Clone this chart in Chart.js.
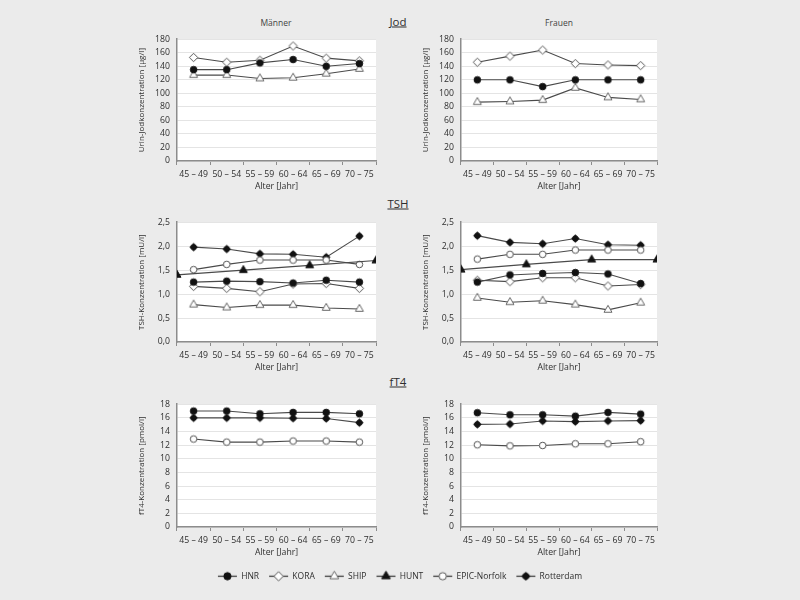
<!DOCTYPE html>
<html><head><meta charset="utf-8">
<script src="https://cdn.jsdelivr.net/npm/chart.js@4.4.0/dist/chart.umd.min.js"></script>
<style>
html,body{margin:0;padding:0;background:#ebebeb;width:800px;height:600px;overflow:hidden;font-family:"Open Sans","Noto Sans",sans-serif;color:#2e2e2e}
.box{position:absolute}
.sec{position:absolute;font-size:11.5px;text-decoration:underline;transform:translate(-50%,-50%);white-space:nowrap}
.sub{position:absolute;font-size:8.5px;transform:translate(-50%,-50%);color:#444;white-space:nowrap}
</style></head><body>
<div class="sec" style="left:398px;top:21px">Jod</div>
<div class="sub" style="left:276px;top:22px">Männer</div>
<div class="sub" style="left:559px;top:22px">Frauen</div>
<div class="sec" style="left:398px;top:203px">TSH</div>
<div class="sec" style="left:398px;top:381px">fT4</div>
<script>
// ---------- data ----------
const ageGroups = ['45 – 49','50 – 54','55 – 59','60 – 64','65 – 69','70 – 75'];
const ageGroupStart = [45,50,55,60,65,70];
const huntAges = [45,55,65,75];

const jodM_HNR  = [135,135,145,150,140,144];
const jodM_KORA = [153,146,149,170,152,148];
const jodM_SHIP = [127,127,122,123,129,136];
const jodF_HNR  = [120,120,110,120,120,120];
const jodF_KORA = [146,155,164,144,142,141];
const jodF_SHIP = [87,88,90,108,94,91];

const tshM_HNR  = [1.25,1.27,1.26,1.23,1.29,1.25];
const tshM_KORA = [1.16,1.12,1.05,1.21,1.22,1.12];
const tshM_SHIP = [0.78,0.72,0.77,0.77,0.71,0.69];
const tshM_HUNT = [1.40,1.50,1.60,1.70];
const tshM_EPIC = [1.51,1.62,1.71,1.71,1.71,1.62];
const tshM_Rott = [1.98,1.94,1.84,1.83,1.77,2.21];

const tshF_HNR  = [1.25,1.40,1.43,1.45,1.42,1.22];
const tshF_KORA = [1.29,1.26,1.34,1.34,1.17,1.20];
const tshF_SHIP = [0.92,0.83,0.86,0.78,0.67,0.82];
const tshF_HUNT = [1.51,1.62,1.72,1.72];
const tshF_EPIC = [1.73,1.83,1.83,1.92,1.92,1.92];
const tshF_Rott = [2.22,2.08,2.05,2.16,2.03,2.02];

const ft4M_HNR  = [17.0,17.0,16.6,16.8,16.8,16.6];
const ft4M_Rott = [16.0,16.0,16.0,15.95,15.9,15.3];
const ft4M_EPIC = [12.9,12.45,12.45,12.6,12.6,12.45];
const ft4F_HNR  = [16.75,16.45,16.45,16.25,16.8,16.55];
const ft4F_Rott = [15.05,15.1,15.55,15.45,15.55,15.6];
const ft4F_EPIC = [12.05,11.9,11.95,12.2,12.2,12.5];

const legendNames = ['HNR','KORA','SHIP','HUNT','EPIC-Norfolk','Rotterdam'];

// ---------- styles ----------
const FONT = "'Open Sans','Noto Sans',sans-serif";
const AXIS = '#8c8c8c';
const TXT = '#2e2e2e';
const LINE = '#4a4a4a';

function drawShape(ctx, shape, x, y, r, bg, bc) {
  ctx.save();
  ctx.fillStyle = bg; ctx.strokeStyle = bc; ctx.lineWidth = 1;
  ctx.beginPath();
  if (shape === 'circle') { ctx.arc(x, y, r, 0, Math.PI*2); }
  else if (shape === 'diamond') { ctx.moveTo(x, y-r); ctx.lineTo(x+r, y); ctx.lineTo(x, y+r); ctx.lineTo(x-r, y); ctx.closePath(); }
  else if (shape === 'triangle') {
    for (let k=0;k<3;k++){ const a = -Math.PI/2 + k*2*Math.PI/3; const px = x + Math.cos(a)*r, py = y + Math.sin(a)*r; k?ctx.lineTo(px,py):ctx.moveTo(px,py);} ctx.closePath();
  }
  ctx.fill(); ctx.stroke();
  if (shape === 'rott') {
    ctx.beginPath(); ctx.moveTo(x, y-r); ctx.lineTo(x+r, y); ctx.lineTo(x, y+r); ctx.lineTo(x-r, y); ctx.closePath(); ctx.fill();
    ctx.beginPath(); ctx.arc(x, y, r*0.72, 0, Math.PI*2); ctx.fill();
  }
  ctx.restore();
}
function glyph(shape, r, bg, bc, withLine, scale) {
  scale = scale || 1;
  const rr = r*scale;
  const w = withLine ? 21 : Math.ceil(2*rr+4), h = withLine ? 13 : Math.ceil(2*rr+4);
  const c = document.createElement('canvas'); c.width = w; c.height = h;
  const ctx = c.getContext('2d');
  if (withLine) { ctx.strokeStyle = '#333'; ctx.lineWidth = 1.2; ctx.beginPath(); ctx.moveTo(1, h/2); ctx.lineTo(w-1, h/2); ctx.stroke(); }
  drawShape(ctx, shape, w/2, h/2, rr, bg, bc);
  return c;
}
const SER = {
  HNR:  {shape:'circle',   r:3.3, bg:'#111', bc:'#111'},
  KORA: {shape:'diamond',  r:4.2, bg:'#fff', bc:'#555'},
  SHIP: {shape:'triangle', r:4.6, bg:'#fff', bc:'#666'},
  HUNT: {shape:'triangle', r:4.6, bg:'#111', bc:'#111'},
  EPIC: {shape:'circle',   r:3.3, bg:'#fff', bc:'#555'},
  Rott: {shape:'rott',     r:4.2, bg:'#111', bc:'#111'}
};
const legendKeys = ['HNR','KORA','SHIP','HUNT','EPIC','Rott'];

const whiteArea = {id:'whiteArea', beforeDraw(c){const {ctx, chartArea:a}=c; ctx.save(); ctx.fillStyle='#fff'; ctx.fillRect(a.left,a.top,a.right-a.left,a.bottom-a.top); ctx.restore();}};

function ds(key, values, xs) {
  const s = SER[key];
  return {
    label: key,
    data: values.map((v,i)=>({x: xs ? xs[i] : ageGroupStart[i]+2.5, y: v})),
    xAxisID:'xd', yAxisID:'y',
    borderColor: LINE, borderWidth: 1.1, tension: 0, fill:false,
    pointStyle: glyph(s.shape, s.r, s.bg, s.bc, false),
    pointRadius: s.r
  };
}

function panel(plot, yMax, yStep, yTitle, fmt, datasets) {
  const [L,T,R,B] = plot;
  const div = document.createElement('div'); div.className = 'box';
  div.style.left = (L-60)+'px'; div.style.top = (T-10)+'px';
  div.style.width = (R-L+72)+'px'; div.style.height = (B-T+46)+'px';
  const cv = document.createElement('canvas'); div.appendChild(cv); document.body.appendChild(div);
  new Chart(cv, {
    type:'line',
    data:{datasets},
    plugins:[whiteArea],
    options:{
      responsive:true, maintainAspectRatio:false, animation:false,
      layout:{padding:{top:10,right:12,left:0,bottom:0}},
      plugins:{legend:{display:false}, tooltip:{enabled:false}},
      scales:{
        x:{type:'category', labels: ageGroups, offset:true, position:'bottom',
           grid:{offset:true, drawOnChartArea:false, drawTicks:true, tickLength:4, color:AXIS},
           border:{color:AXIS, width:1.5},
           ticks:{color:TXT, font:{family:FONT, size:8.7}, padding:4.5, maxRotation:0, autoSkip:false},
           title:{display:true, text:'Alter [Jahr]', color:TXT, font:{family:FONT, size:8.7}, padding:{top:5,bottom:5}},
           afterFit(s){ s.height = 36; }
        },
        xd:{type:'linear', display:false, min:45, max:75},
        y:{type:'linear', min:0, max:yMax,
           ticks:{stepSize:yStep, callback:fmt, color:TXT, font:{family:FONT, size:8.7}, padding:7},
           grid:{color:'#e4e4e4', drawTicks:false},
           border:{color:AXIS, width:1.5},
           title:{display:true, text:yTitle, color:TXT, font:{family:FONT, size:8}, padding:{top:20,bottom:0}},
           afterFit(s){ s.width = 60; }
        }
      }
    }
  });
}
const fmtInt = v => String(v);
const fmtDec = v => v.toFixed(1).replace('.', ',');

panel([177,37,376,161], 180, 20, 'Urin-Jodkonzentration [µg/l]', fmtInt,
  [ds('HNR',jodM_HNR), ds('KORA',jodM_KORA), ds('SHIP',jodM_SHIP)]);
panel([461,37,657,161], 180, 20, 'Urin-Jodkonzentration [µg/l]', fmtInt,
  [ds('HNR',jodF_HNR), ds('KORA',jodF_KORA), ds('SHIP',jodF_SHIP)]);
panel([177,220,376,342], 2.5, 0.5, 'TSH-Konzentration [mU/l]', fmtDec,
  [ds('HNR',tshM_HNR), ds('KORA',tshM_KORA), ds('SHIP',tshM_SHIP), ds('HUNT',tshM_HUNT,huntAges), ds('EPIC',tshM_EPIC), ds('Rott',tshM_Rott)]);
panel([461,220,657,342], 2.5, 0.5, 'TSH-Konzentration [mU/l]', fmtDec,
  [ds('HNR',tshF_HNR), ds('KORA',tshF_KORA), ds('SHIP',tshF_SHIP), ds('HUNT',tshF_HUNT,huntAges), ds('EPIC',tshF_EPIC), ds('Rott',tshF_Rott)]);
panel([177,402,376,527], 18, 2, 'fT4-Konzentration [pmol/l]', fmtInt,
  [ds('HNR',ft4M_HNR), ds('EPIC',ft4M_EPIC), ds('Rott',ft4M_Rott)]);
panel([461,402,657,527], 18, 2, 'fT4-Konzentration [pmol/l]', fmtInt,
  [ds('HNR',ft4F_HNR), ds('EPIC',ft4F_EPIC), ds('Rott',ft4F_Rott)]);

// ---------- legend ----------
const legendIcons = legendKeys.map(k => { const s = SER[k]; return glyph(s.shape, s.r, s.bg, s.bc, true, 1.1); });
(function(){
  const div = document.createElement('div'); div.className='box';
  div.style.left='0px'; div.style.top='562px'; div.style.width='800px'; div.style.height='90px';
  const cv = document.createElement('canvas'); div.appendChild(cv); document.body.appendChild(div);
  new Chart(cv, {
    type:'line',
    data:{datasets: legendNames.map(n=>({label:n, data:[]}))},
    options:{
      responsive:true, maintainAspectRatio:false, animation:false,
      scales:{x:{display:false}, y:{display:false}},
      plugins:{tooltip:{enabled:false},
        legend:{display:true, position:'top', align:'center',
          labels:{usePointStyle:true, pointStyleWidth:19, boxHeight:10, padding:10, color:TXT,
            font:{family:FONT, size:8.5},
            generateLabels: () => legendNames.map((n,i)=>({text:n, pointStyle:legendIcons[i], fillStyle:'#000', strokeStyle:'#000', lineWidth:0, hidden:false, datasetIndex:i, fontColor:TXT}))
          }}}
    }
  });
})();
</script>
</body></html>
